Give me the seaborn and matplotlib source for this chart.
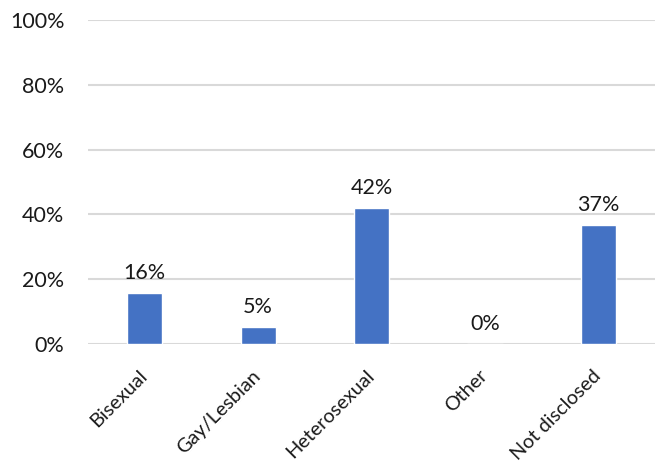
import matplotlib
matplotlib.use("Agg")
import matplotlib.pyplot as plt
import seaborn as sns
import pandas as pd

categories = ["Bisexual", "Gay/Lesbian", "Heterosexual", "Other", "Not disclosed"]
shares = [15.8, 5.3, 42.1, 0.0, 36.8]
y_ticks = [0, 20, 40, 60, 80, 100]

df = pd.DataFrame({"category": categories, "share": shares})

sns.set_theme(style="white")
plt.rcParams["font.family"] = ["Lato", "DejaVu Sans"]
text_color = "#1a1a1a"
fs = 15.5

fig = plt.figure(figsize=(6.57, 4.68), dpi=100)
ax = fig.add_axes([0.134, 0.265, 0.863, 0.692])

sns.barplot(data=df, x="category", y="share", color="#4472C4", width=0.31,
            saturation=1, ax=ax, zorder=3)

ax.set_ylim(0, 100)
ax.set_yticks(y_ticks)
ax.set_yticklabels([f"{t}%" for t in y_ticks], fontsize=fs, color=text_color)
ax.yaxis.grid(True, color="#d9d9d9", linewidth=1.5, zorder=0)
ax.set_axisbelow(True)
ax.set_xlabel("")
ax.set_ylabel("")
for s in ax.spines.values():
    s.set_visible(False)
ax.tick_params(axis="y", length=0, pad=17)
ax.tick_params(axis="x", length=0, pad=21)

for lbl in ax.get_xticklabels():
    lbl.set_rotation(45)
    lbl.set_ha("right")
    lbl.set_va("center")
    lbl.set_rotation_mode("anchor")
    lbl.set_fontsize(14.3)
    lbl.set_color(text_color)

for i, v in enumerate(shares):
    ax.annotate(f"{v:.0f}%", (i, v), xytext=(0, 7), textcoords="offset points",
                ha="center", va="bottom", fontsize=fs, color=text_color)

fig.savefig("out.png", dpi=100)
